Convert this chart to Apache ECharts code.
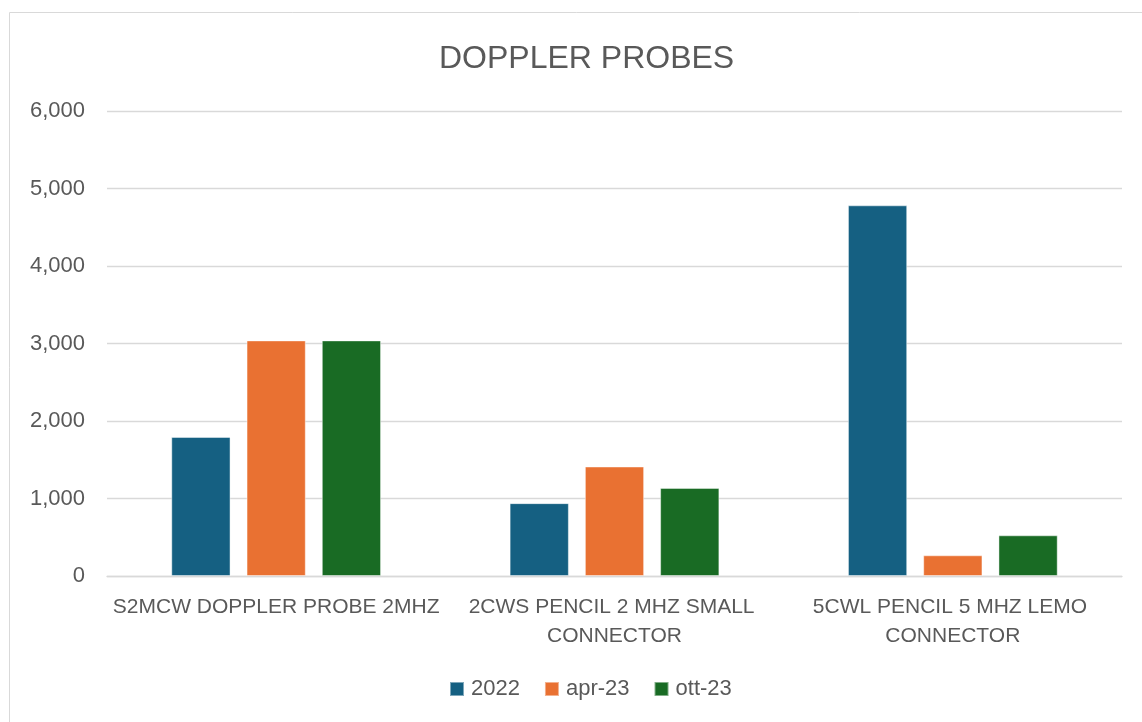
<!DOCTYPE html>
<html><head><meta charset="utf-8">
<script src="https://cdn.jsdelivr.net/npm/echarts@6/dist/echarts.min.js"></script>
<style>html,body{margin:0;padding:0;background:#fff}#c{width:1142px;height:722px}</style>
</head><body><div id="c"></div>
<script>
var categories = ['S2MCW DOPPLER PROBE 2MHZ', '2CWS PENCIL 2 MHZ SMALL CONNECTOR', '5CWL PENCIL 5 MHZ LEMO CONNECTOR'];
var seriesNames = ['2022', 'apr-23', 'ott-23'];
var values2022 = [1794, 940, 4783];
var valuesApr23 = [3040, 1413, 267];
var valuesOtt23 = [3040, 1137, 525];
var yTicks = [0, 1000, 2000, 3000, 4000, 5000, 6000];

var colors = ['#156082', '#E97132', '#196B24'];
var font = 'Liberation Sans';
var chart = echarts.init(document.getElementById('c'));
var allVals = [values2022, valuesApr23, valuesOtt23];
chart.setOption({
  animation: false,
  textStyle: {fontFamily: font},
  graphic: [{type: 'rect', shape: {x: 9.5, y: 12.5, width: 1150, height: 730}, style: {fill: null, stroke: '#d9d9d9', lineWidth: 1}}],
  title: {text: 'DOPPLER PROBES', left: 434, top: 38, textStyle: {fontFamily: font, fontSize: 32, fontWeight: 'normal', color: '#595959'}},
  legend: {bottom: 17, left: 444, itemWidth: 14, itemHeight: 14, itemGap: 24, icon: 'rect',
    textStyle: {fontFamily: font, fontSize: 22, color: '#595959', padding: [0, 0, 0, 2]}, data: seriesNames},
  grid: {left: 107, right: 20, top: 111, bottom: 146, containLabel: false},
  xAxis: {type: 'category', data: categories,
    axisLine: {lineStyle: {color: '#d9d9d9', width: 1.3}}, axisTick: {show: false},
    axisLabel: {interval: 0, width: 338, overflow: 'break', fontFamily: font, fontSize: 21, color: '#595959', margin: 17, lineHeight: 29}},
  yAxis: {type: 'value', min: yTicks[0], max: yTicks[yTicks.length - 1], interval: 1000,
    axisLine: {show: false}, axisTick: {show: false},
    splitLine: {lineStyle: {color: '#d9d9d9', width: 1.3}},
    axisLabel: {fontFamily: font, fontSize: 22, color: '#595959', margin: 22,
      formatter: function (v) { return v.toLocaleString('en-US'); }}},
  series: seriesNames.map(function (n, i) {
    return {name: n, type: 'bar', data: allVals[i], barGap: '27%', barCategoryGap: '38%',
      itemStyle: {color: colors[i], borderColor: 'rgba(255,255,255,0.45)', borderWidth: 1}};
  })
});
</script></body></html>
